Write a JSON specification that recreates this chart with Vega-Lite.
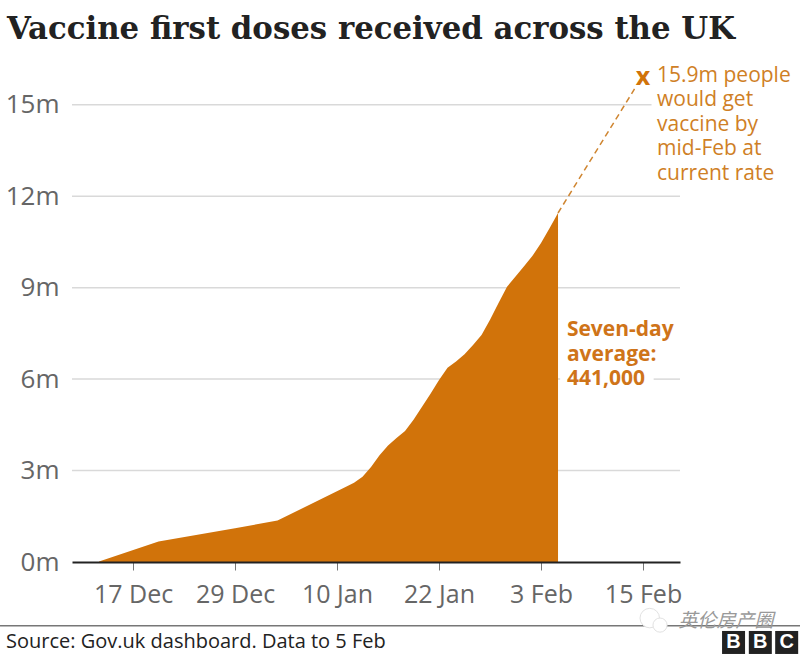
{
"$schema":"https://vega.github.io/schema/vega-lite/v6.json",
"width":608,"height":502,
"autosize":{"type":"none"},
"padding":{"left":72,"top":60,"right":120,"bottom":94},
"background":"white",
"title":{"text":"Vaccine first doses received across the UK","anchor":"start","frame":"group","dx":-65,"offset":14,"font":"DejaVu Serif","fontWeight":"bold","fontSize":30.8,"color":"#222222"},
"config":{"view":{"stroke":null}},
"datasets":{
"doses":[
{"date":"2020-12-13T00:00:00","value":0.02},
{"date":"2020-12-20T00:00:00","value":0.67},
{"date":"2020-12-29T00:00:00","value":1.11},
{"date":"2021-01-03T00:00:00","value":1.36},
{"date":"2021-01-11T00:00:00","value":2.46},
{"date":"2021-01-12T00:00:00","value":2.6},
{"date":"2021-01-13T00:00:00","value":2.8},
{"date":"2021-01-14T00:00:00","value":3.12},
{"date":"2021-01-15T00:00:00","value":3.5},
{"date":"2021-01-16T00:00:00","value":3.82},
{"date":"2021-01-17T00:00:00","value":4.07},
{"date":"2021-01-18T00:00:00","value":4.3},
{"date":"2021-01-19T00:00:00","value":4.67},
{"date":"2021-01-20T00:00:00","value":5.09},
{"date":"2021-01-21T00:00:00","value":5.52},
{"date":"2021-01-22T00:00:00","value":5.97},
{"date":"2021-01-23T00:00:00","value":6.37},
{"date":"2021-01-24T00:00:00","value":6.58},
{"date":"2021-01-25T00:00:00","value":6.82},
{"date":"2021-01-26T00:00:00","value":7.12},
{"date":"2021-01-27T00:00:00","value":7.45},
{"date":"2021-01-28T00:00:00","value":7.95},
{"date":"2021-01-29T00:00:00","value":8.5},
{"date":"2021-01-30T00:00:00","value":9.03},
{"date":"2021-01-31T00:00:00","value":9.37},
{"date":"2021-02-01T00:00:00","value":9.7},
{"date":"2021-02-02T00:00:00","value":10.05},
{"date":"2021-02-03T00:00:00","value":10.47},
{"date":"2021-02-04T00:00:00","value":10.95},
{"date":"2021-02-05T00:00:00","value":11.45}
],
"projection":[
{"date":"2021-02-05T00:00:00","value":11.45},
{"date":"2021-02-14T00:00:00","value":15.52}
],
"grid":[
{"date":"2020-12-09T19:40:00","date2":"2021-02-19T08:24:00","value":3},
{"date":"2020-12-09T19:40:00","date2":"2021-02-05T06:00:00","value":6},
{"date":"2021-02-16T06:00:00","date2":"2021-02-19T08:24:00","value":6},
{"date":"2020-12-09T19:40:00","date2":"2021-02-19T08:24:00","value":9},
{"date":"2020-12-09T19:40:00","date2":"2021-02-19T08:24:00","value":12},
{"date":"2020-12-09T19:40:00","date2":"2021-02-16T00:00:00","value":15}
],
"footerRule":[{"date":"2020-12-01T08:24:00","date2":"2021-03-05T11:17:00","value":-2.09}],
"orangeNotes":[
{"date":"2021-02-16T15:36:00","value":15.96,"label":"15.9m people\nwould get\nvaccine by\nmid-Feb at\ncurrent rate"}
],
"boldNotes":[
{"date":"2021-02-06T01:00:00","value":7.6,"label":"Seven-day\naverage:\n441,000"}
],
"target":[{"date":"2021-02-15T00:00:00","value":15.9,"label":"x"}],
"source":[{"date":"2020-12-02T01:26:00","value":-2.62,"label":"Source: Gov.uk dashboard. Data to 5 Feb"}],
"watermark":[{"date":"2021-02-24T18:14:00","value":-1.95,"label":"英伦房产圈"}],
"wechat":[
{"date":"2021-02-15T19:00:00","value":-1.84,"size":380},
{"date":"2021-02-17T00:00:00","value":-2.07,"size":200}
],
"logo":[
{"date":"2021-02-25T15:36:00","value":-2.64,"label":"B"},
{"date":"2021-02-28T19:12:00","value":-2.64,"label":"B"},
{"date":"2021-03-03T21:36:00","value":-2.64,"label":"C"}
]
},
"encoding":{
"x":{"field":"date","type":"temporal","title":null,
"scale":{"domain":["2020-12-09T19:40:00","2021-02-19T08:24:00"]},
"axis":{"values":["2020-12-17T00:00:00","2020-12-29T00:00:00","2021-01-10T00:00:00","2021-01-22T00:00:00","2021-02-03T00:00:00","2021-02-15T00:00:00"],"format":"%-d %b","grid":false,"domainColor":"#222222","domainWidth":2,"tickColor":"#777777","tickSize":8,"tickWidth":1,"labelColor":"#666666","labelFont":"Open Sans","labelFontSize":25,"labelPadding":12,"zindex":1,"labelFlush":false,"labelOverlap":false}},
"y":{"field":"value","type":"quantitative","title":null,
"scale":{"domain":[0,16.47],"nice":false,"zero":false},
"axis":{"values":[0,3,6,9,12,15],"labelExpr":"datum.value + 'm'","domain":false,"ticks":false,"grid":false,"labelColor":"#666666","labelFont":"Open Sans","labelFontSize":26,"labelPadding":13}}
},
"layer":[
{"data":{"name":"grid"},"mark":{"type":"rule","color":"#d9d9d9","strokeWidth":1.5},"encoding":{"x2":{"field":"date2"}}},
{"data":{"name":"doses"},"mark":{"type":"area","color":"#d1730a","interpolate":"linear"}},
{"data":{"name":"projection"},"mark":{"type":"line","color":"#cf8530","strokeWidth":1.5,"strokeDash":[6,4]}},
{"data":{"name":"target"},"mark":{"type":"text","color":"#d1730a","font":"Open Sans","fontWeight":"bold","fontSize":25,"baseline":"middle","align":"center"},"encoding":{"text":{"field":"label"}}},
{"data":{"name":"orangeNotes"},"mark":{"type":"text","color":"#cf7f26","font":"Open Sans","fontSize":21,"align":"left","baseline":"middle","lineBreak":"\n","lineHeight":24.5},"encoding":{"text":{"field":"label"}}},
{"data":{"name":"boldNotes"},"mark":{"type":"text","color":"#cf7419","font":"Open Sans","fontWeight":"bold","fontSize":21,"align":"left","baseline":"middle","lineBreak":"\n","lineHeight":24.5},"encoding":{"text":{"field":"label"}}},
{"data":{"name":"footerRule"},"mark":{"type":"rule","color":"#777777","strokeWidth":1.5},"encoding":{"x2":{"field":"date2"}}},
{"data":{"name":"source"},"mark":{"type":"text","color":"#222222","font":"Open Sans","fontSize":20,"align":"left","baseline":"middle"},"encoding":{"text":{"field":"label"}}},
{"data":{"name":"wechat"},"mark":{"type":"point","shape":"circle","filled":true,"fill":"white","stroke":"#e2e2e2","strokeWidth":1,"opacity":1},"encoding":{"size":{"field":"size","type":"quantitative","scale":null,"legend":null}}},
{"data":{"name":"watermark"},"mark":{"type":"text","color":"#999999","font":"Noto Sans CJK SC","fontStyle":"italic","fontSize":19,"align":"center","baseline":"middle"},"encoding":{"text":{"field":"label"}}},
{"data":{"name":"logo"},"mark":{"type":"point","shape":"square","filled":true,"fill":"#222222","stroke":null,"opacity":1,"size":529}},
{"data":{"name":"logo"},"mark":{"type":"text","color":"white","font":"Liberation Sans","fontWeight":"bold","fontSize":20,"align":"center","baseline":"middle"},"encoding":{"text":{"field":"label"}}}
]
}
